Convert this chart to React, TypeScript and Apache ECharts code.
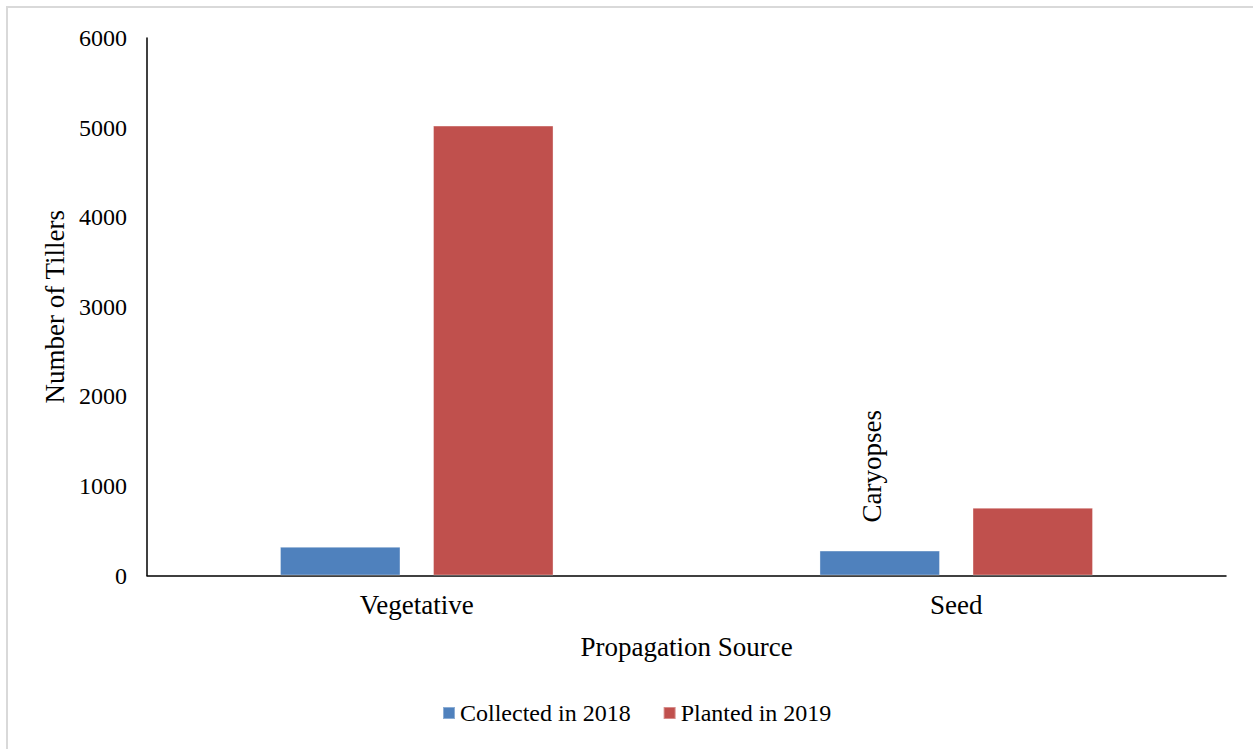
import React, { useEffect, useRef } from "react";
import * as echarts from "echarts";

const categories = ["Vegetative", "Seed"];
const collected2018 = [321, 278];
const planted2019 = [5022, 757];
const yTicks = { min: 0, max: 6000, interval: 1000 };
const seriesNames = ["Collected in 2018", "Planted in 2019"];
const annotation = "Caryopses";

const FONT = "'Liberation Serif', 'Times New Roman', serif";

export default function App() {
  const ref = useRef<HTMLDivElement>(null);
  useEffect(() => {
    if (!ref.current) return;
    const chart = echarts.init(ref.current, null, { renderer: "svg" });
    chart.setOption({
      animation: false,
      backgroundColor: "#ffffff",
      textStyle: { fontFamily: FONT, color: "#000" },
      graphic: [
        {
          type: "rect",
          shape: { x: 7, y: 7, width: 1300, height: 800 },
          style: { fill: "none", stroke: "#d9d9d9", lineWidth: 2 },
          silent: true,
        },
      ],
      grid: { left: 147, right: 27, top: 38, bottom: 173.5, containLabel: false },
      legend: {
        bottom: 24,
        left: 442,
        padding: 0,
        itemWidth: 12,
        itemHeight: 12,
        itemGap: 32,
        icon: "rect",
        textStyle: { fontFamily: FONT, fontSize: 24, color: "#000" },
        data: seriesNames,
      },
      xAxis: {
        type: "category",
        data: categories,
        name: "Propagation Source",
        nameLocation: "middle",
        nameGap: 58,
        nameTextStyle: { fontFamily: FONT, fontSize: 27, color: "#000" },
        axisLine: { lineStyle: { color: "#000", width: 1.5 } },
        axisTick: { show: false },
        axisLabel: { fontFamily: FONT, fontSize: 27, color: "#000", margin: 16 },
      },
      yAxis: {
        type: "value",
        min: yTicks.min,
        max: yTicks.max,
        interval: yTicks.interval,
        name: "Number of Tillers",
        nameLocation: "middle",
        nameGap: 68,
        nameRotate: 90,
        nameTextStyle: { fontFamily: FONT, fontSize: 27, color: "#000" },
        axisLine: { show: true, lineStyle: { color: "#000", width: 1.5 } },
        axisTick: { show: false },
        splitLine: { show: false },
        axisLabel: {
          fontFamily: FONT,
          fontSize: 24,
          color: "#000",
          margin: 20,
          formatter: (v: number) => String(v),
        },
      },
      series: [
        {
          name: seriesNames[0],
          type: "bar",
          barWidth: 120.5,
          barGap: "27%",
          itemStyle: { color: "#4F81BD", borderColor: "rgba(255,255,255,0.35)", borderWidth: 1 },
          data: collected2018.map((v, i) =>
            i === 1
              ? {
                  value: v,
                  label: {
                    show: true,
                    formatter: annotation,
                    position: "top",
                    rotate: 90,
                    align: "left",
                    verticalAlign: "middle",
                    distance: 28,
                    offset: [0, -8],
                    fontFamily: FONT,
                    fontSize: 27,
                    color: "#000",
                  },
                }
              : v
          ),
        },
        {
          name: seriesNames[1],
          type: "bar",
          barWidth: 120.5,
          barGap: "27%",
          itemStyle: { color: "#C0504D", borderColor: "rgba(255,255,255,0.35)", borderWidth: 1 },
          data: planted2019,
        },
      ],
    });
    return () => chart.dispose();
  }, []);
  return (
    <div
      ref={ref}
      style={{ position: "absolute", left: 0, top: 0, width: 1253, height: 749 }}
    />
  );
}
